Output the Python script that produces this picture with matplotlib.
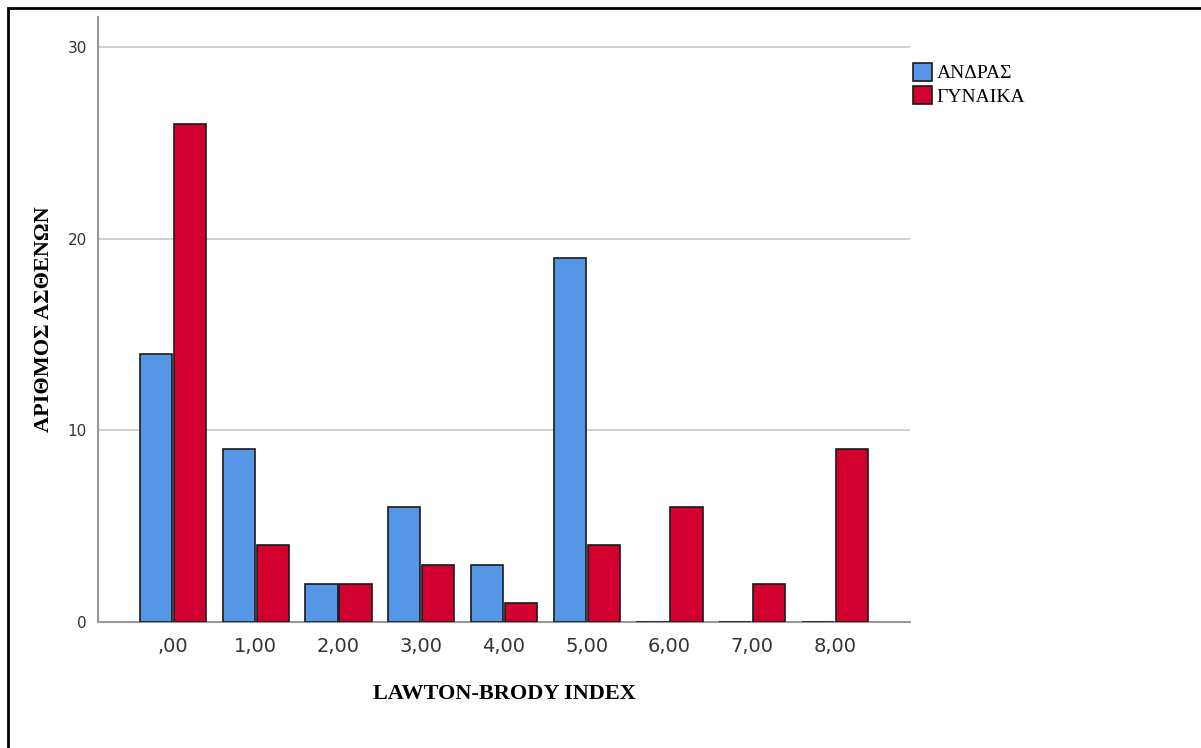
import numpy as np
import matplotlib.pyplot as plt
from matplotlib.patches import Rectangle

# dane
kategorie = [',00', '1,00', '2,00', '3,00', '4,00', '5,00', '6,00', '7,00', '8,00']
andras = [14, 9, 2, 6, 3, 19, 0, 0, 0]
gynaika = [26, 4, 2, 3, 1, 4, 6, 2, 9]
serie = ['ΑΝΔΡΑΣ', 'ΓΥΝΑΙΚΑ']
kolory = ['#5596E6', '#D2002E']

fig = plt.figure(figsize=(12.01, 7.48), dpi=100)
ax = fig.add_axes([0.0816, 0.1684, 0.6761, 0.8089])

x = np.arange(len(kategorie))
w = 0.39
ax.bar(x - 0.205, andras, width=w, color=kolory[0], edgecolor='#1a1a1a', linewidth=1.2, label=serie[0], zorder=3)
ax.bar(x + 0.205, gynaika, width=w, color=kolory[1], edgecolor='#1a1a1a', linewidth=1.2, label=serie[1], zorder=3)

ax.set_xlim(-0.906, 8.906)
ax.set_ylim(0, 31.56)
ax.set_yticks([0, 10, 20, 30])
ax.set_xticks(x)
ax.set_xticklabels(kategorie)
ax.grid(axis='y', color='#c8c8c8', linewidth=1.2, zorder=0)
ax.tick_params(length=0, colors='#333333')
ax.tick_params(axis='x', labelsize=14, pad=11)
ax.tick_params(axis='y', labelsize=11, pad=8)
for s in ['top', 'right']:
    ax.spines[s].set_visible(False)
for s in ['left', 'bottom']:
    ax.spines[s].set_color('#999999')
    ax.spines[s].set_linewidth(1.5)

ax.set_xlabel('LAWTON-BRODY INDEX', family='Liberation Serif', fontweight='bold', fontsize=16, labelpad=20)
ax.set_ylabel('ΑΡΙΘΜΟΣ ΑΣΘΕΝΩΝ', family='Liberation Serif', fontweight='bold', fontsize=16, labelpad=10)

leg = fig.legend(loc='upper left', bbox_to_anchor=(0.746, 0.939), frameon=False,
                 handlelength=0.95, handleheight=1.0, handletextpad=0.25, labelspacing=0.2,
                 prop={'family': 'Liberation Serif', 'size': 14})

# ramka wokol calego rysunku
fig.patches.append(Rectangle((8 / 1201, -0.1), 1.2, 1.1 - 8 / 748, transform=fig.transFigure,
                             fill=False, edgecolor='black', linewidth=2))

fig.savefig('out.png', dpi=100)
